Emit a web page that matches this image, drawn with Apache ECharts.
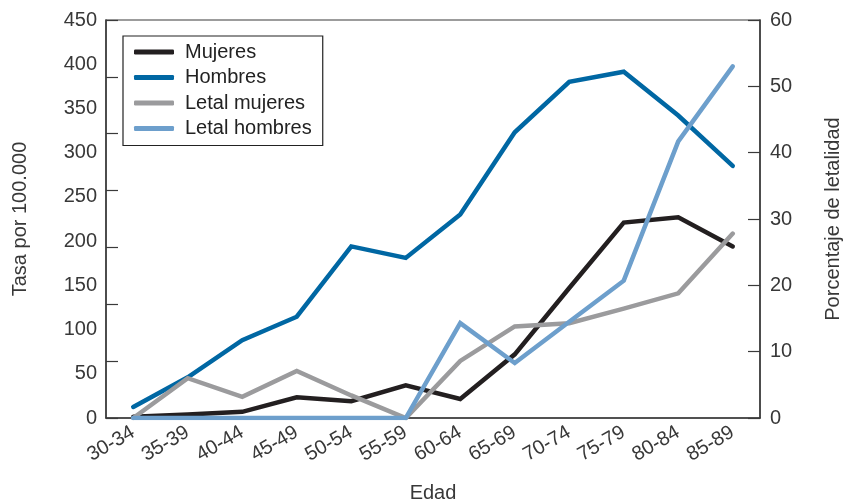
<!DOCTYPE html>
<html>
<head>
<meta charset="utf-8">
<script src="https://cdn.jsdelivr.net/npm/echarts@6/dist/echarts.min.js"></script>
<style>html,body{margin:0;padding:0;background:#fff}#c{width:843px;height:501px}</style>
</head>
<body>
<div id="c"></div>
<script>
var categories = ['30-34','35-39','40-44','45-49','50-54','55-59','60-64','65-69','70-74','75-79','80-84','85-89'];
var mujeres = [1.5, 4, 7, 23.5, 19, 37, 21.5, 72, 147, 221, 227, 194];
var hombres = [12.5, 46, 88, 114.5, 194, 181, 230, 323, 380, 391.5, 342, 285];
var letalMujeres = [0, 6, 3.2, 7.1, 3.4, 0, 8.6, 13.8, 14.3, 16.5, 18.8, 27.8];
var letalHombres = [0, 0, 0, 0, 0, 0, 14.3, 8.3, 14.5, 20.7, 41.7, 53];
var leftTicks = [0, 50, 100, 150, 200, 250, 300, 350, 400, 450];
var rightTicks = [0, 10, 20, 30, 40, 50, 60];

var FONT = 'Liberation Sans';
var TXT = '#383838';
var AX = '#3a3a3a';
var FS = 20;
var chart = echarts.init(document.getElementById('c'), null, {renderer: 'canvas'});

function line(name, data, color, yIdx) {
  return {
    name: name, type: 'line', data: data, yAxisIndex: yIdx,
    symbol: 'none', lineStyle: {color: color, width: 4.5, cap: 'round', join: 'miter'},
    itemStyle: {color: color}, emphasis: {disabled: true}, animation: false
  };
}

chart.setOption({
  animation: false,
  textStyle: {fontFamily: FONT},
  grid: {left: 106, right: 83, top: 20, bottom: 83, show: true, borderColor: AX, borderWidth: 1.2,
    containLabel: false, outerBoundsMode: 'none'},
  legend: {
    left: 123, top: 36, orient: 'vertical',
    borderColor: '#222', borderWidth: 1.2, padding: [6, 11, 7, 11],
    itemWidth: 40, itemHeight: 5, itemGap: 5.5, icon: 'roundRect',
    textStyle: {fontFamily: FONT, fontSize: 20, color: '#222', lineHeight: 20, padding: [0, 0, 0, 6]},
    data: ['Mujeres', 'Hombres', 'Letal mujeres', 'Letal hombres']
  },
  xAxis: {
    type: 'category', data: categories, boundaryGap: true,
    name: 'Edad', nameLocation: 'middle', nameGap: 65,
    nameTextStyle: {fontFamily: FONT, fontSize: FS, color: TXT},
    axisLine: {lineStyle: {color: AX, width: 1.5}},
    axisTick: {inside: true, length: 10, lineStyle: {color: AX, width: 1.2}},
    axisLabel: {rotate: 30, fontFamily: FONT, fontSize: FS, color: TXT, margin: 13, interval: 0}
  },
  yAxis: [
    {
      type: 'value', position: 'left', min: 0, max: 450, interval: 50,
      name: 'Tasa por 100.000', nameLocation: 'middle', nameGap: 76, nameRotate: 90,
      nameTextStyle: {fontFamily: FONT, fontSize: FS, color: TXT},
      axisLine: {show: true, lineStyle: {color: AX, width: 1.5}},
      axisTick: {show: false},
      splitLine: {show: false},
      axisLabel: {fontFamily: FONT, fontSize: FS, color: TXT, margin: 9,
        formatter: function (v) { return leftTicks.indexOf(v) >= 0 ? String(v) : ''; }}
    },
    {
      type: 'value', position: 'right', min: 0, max: 60, interval: 10,
      name: 'Porcentaje de letalidad', nameLocation: 'middle', nameGap: 63, nameRotate: 90,
      nameTextStyle: {fontFamily: FONT, fontSize: FS, color: TXT},
      axisLine: {show: true, lineStyle: {color: AX, width: 1.5}},
      axisTick: {show: true, inside: true, length: 12, lineStyle: {color: AX, width: 1.2}},
      splitLine: {show: false},
      axisLabel: {fontFamily: FONT, fontSize: FS, color: TXT, margin: 10,
        formatter: function (v) { return rightTicks.indexOf(v) >= 0 ? String(v) : ''; }}
    },
    {
      type: 'value', position: 'left', min: 0, max: 7, interval: 1,
      axisLine: {show: false},
      axisTick: {show: true, inside: true, length: 12, lineStyle: {color: AX, width: 1.2}},
      axisLabel: {show: false}, splitLine: {show: false}
    }
  ],
  series: [
    line('Mujeres', mujeres, '#231f20', 0),
    line('Hombres', hombres, '#0067a3', 0),
    line('Letal mujeres', letalMujeres, '#9b9b9d', 1),
    line('Letal hombres', letalHombres, '#6d9fcc', 1)
  ]
});
</script>
</body>
</html>
